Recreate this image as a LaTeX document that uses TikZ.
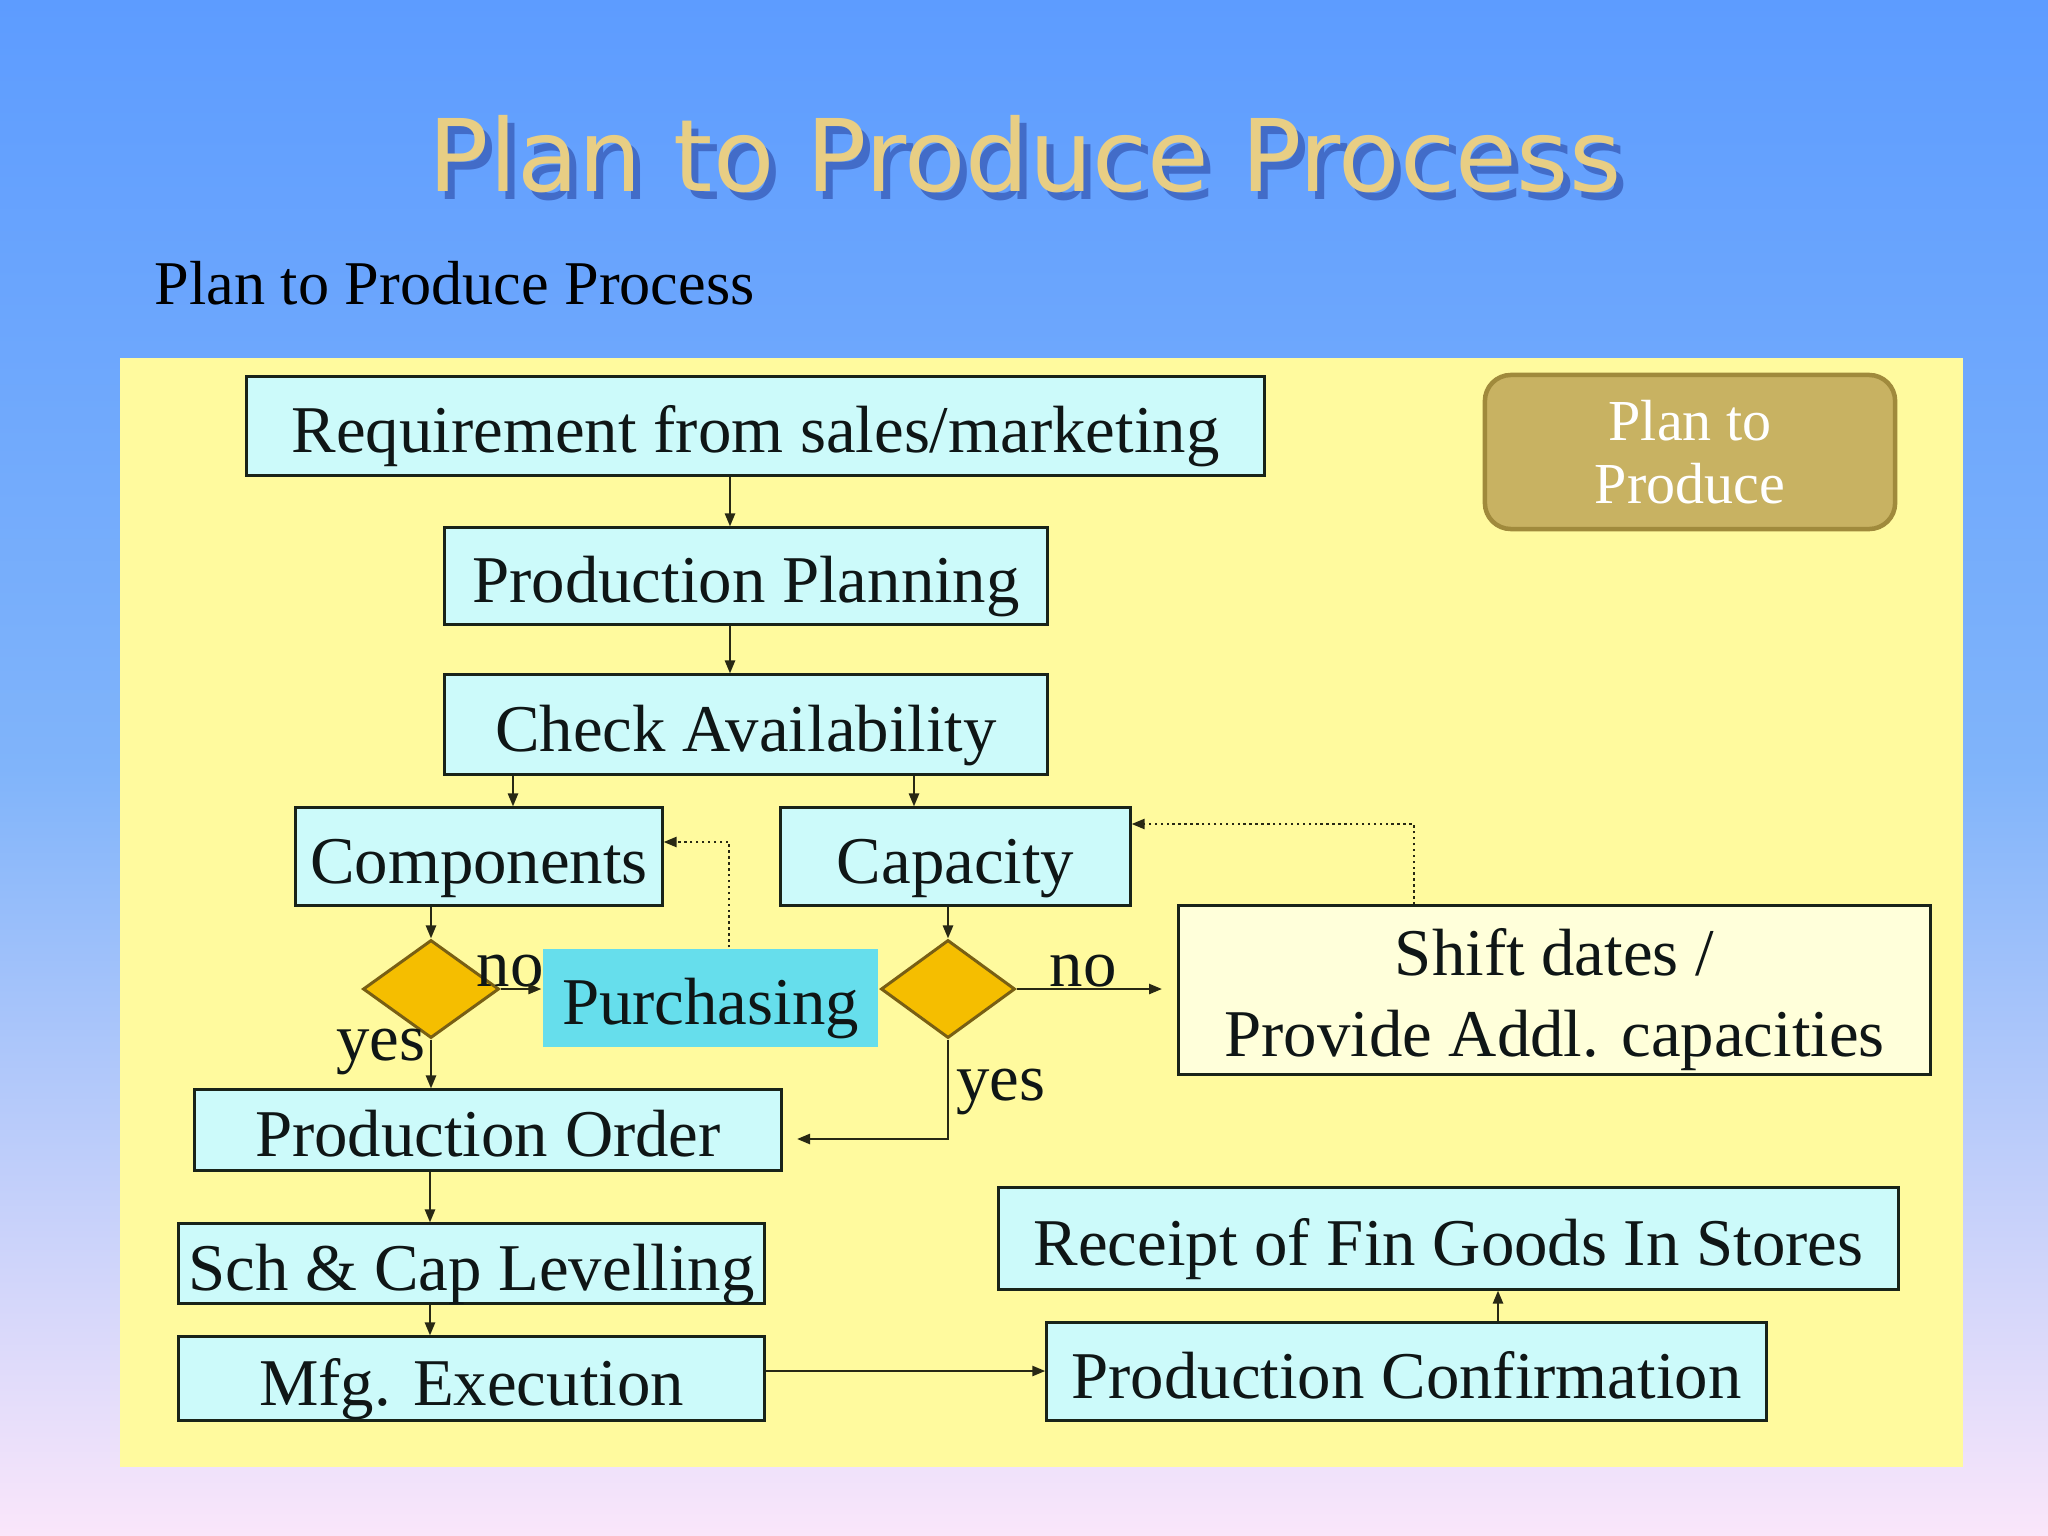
\documentclass[tikz,border=0pt]{standalone}
\usepackage{fontspec}
\setmainfont{Liberation Serif}
\newfontfamily\titlefont{DejaVu Sans}
\usetikzlibrary{arrows.meta,shapes.geometric,calc}
\definecolor{bgA}{RGB}{93,156,255}
\definecolor{bgB}{RGB}{128,180,250}
\definecolor{bgC}{RGB}{250,230,250}
\definecolor{panel}{RGB}{255,250,158}
\definecolor{boxfill}{RGB}{204,250,250}
\definecolor{boxline}{RGB}{25,35,25}
\definecolor{txt}{RGB}{15,22,22}
\definecolor{lineclr}{RGB}{40,40,20}
\definecolor{purfill}{RGB}{102,222,236}
\definecolor{diafill}{RGB}{245,190,0}
\definecolor{dialine}{RGB}{120,95,20}
\definecolor{shiftfill}{RGB}{255,255,218}
\definecolor{planfill}{RGB}{200,178,98}
\definecolor{planline}{RGB}{160,138,60}
\definecolor{gold}{RGB}{232,206,132}
\definecolor{goldshadow}{RGB}{66,108,200}
\begin{document}
\begin{tikzpicture}[x=0.01cm,y=-0.01cm,
  box/.style={draw=boxline, line width=0.03cm, fill=boxfill, inner sep=0pt, text height=17pt, text depth=1.9pt, font=\fontsize{19}{22}\selectfont, text=txt},
  decision/.style={diamond, draw=dialine, line width=0.03cm, fill=diafill, inner sep=0pt, minimum width=1.36cm, minimum height=0.98cm},
  arr/.style={-{Triangle[length=0.13cm,width=0.1cm]}, line width=0.024cm, draw=lineclr},
  dotarr/.style={arr, densely dotted},
  lbl/.style={font=\fontsize{19}{22}\selectfont, text=txt, inner sep=0pt, anchor=base}]
% background
\useasboundingbox (0,0) rectangle (2048,1536);
\shade[top color=bgA, bottom color=bgB] (0,0) rectangle (2048,769);
\shade[top color=bgB, bottom color=bgC] (0,768) rectangle (2048,1536);
% titles
\node[anchor=base, inner sep=0pt, text=gold, font=\titlefont\fontsize{28.5}{32}\selectfont] (title) at (1025,191)
  {\makebox[0pt][l]{\hspace{0.07cm}\raisebox{-0.08cm}{\textcolor{goldshadow}{Plan to Produce Process}}}Plan to Produce Process};
\node[anchor=base west, inner sep=0pt, text=black, font=\fontsize{17.7}{20}\selectfont] (sub) at (154,304) {Plan to Produce Process};
% panel
\fill[panel] (120,358) rectangle (1963,1467);
% nodes
\node[box, minimum width=10.17cm, minimum height=0.98cm] (req) at (755.5,426) {Requirement from sales/marketing};
\node[box, minimum width=6.02cm, minimum height=0.96cm] (pp) at (746,576) {Production Planning};
\node[box, minimum width=6.02cm, minimum height=0.99cm] (ca) at (746,724.5) {Check Availability};
\node[box, minimum width=3.66cm, minimum height=0.97cm] (comp) at (479,856.5) {Components};
\node[box, minimum width=3.49cm, minimum height=0.97cm] (cap) at (955.5,856.5) {Capacity};
\node[decision] (d1) at (431,989) {};
\node[box, draw=none, fill=purfill, minimum width=3.35cm, minimum height=0.98cm] (pur) at (710.5,998) {Purchasing};
\node[decision, minimum width=1.34cm] (d2) at (948,989) {};
\node[box, fill=shiftfill, text height=, text depth=, minimum width=7.51cm, minimum height=1.68cm] (shift) at (1554.5,990) {};
\node[align=center, inner sep=0pt, text=txt, font=\fontsize{19}{23}\selectfont] (shifttxt) at (1554.5,1000) {Shift dates /\\Provide Addl. capacities};
\node[box, minimum width=5.86cm, minimum height=0.80cm] (po) at (488,1130) {Production Order};
\node[box, minimum width=5.85cm, minimum height=0.79cm] (sch) at (471.5,1263.5) {Sch \& Cap Levelling};
\node[box, minimum width=5.85cm, minimum height=0.83cm] (mfg) at (471.5,1378.5) {Mfg. Execution};
\node[box, minimum width=8.99cm, minimum height=1.01cm] (rcpt) at (1448.5,1238.5) {Receipt of Fin Goods In Stores};
\node[box, minimum width=7.19cm, minimum height=0.97cm] (conf) at (1406.5,1371.5) {Production Confirmation};
\node[draw=planline, line width=0.045cm, fill=planfill, rounded corners=0.26cm, minimum width=4.10cm, minimum height=1.54cm, text=white, align=center, font=\fontsize{16.5}{17.8}\selectfont] (plan) at (1690,452) {Plan to\\Produce};
% labels
\node[lbl] (no1) at (510,986) {no};
\node[lbl] (yes1) at (381,1060) {yes};
\node[lbl] (no2) at (1083,986) {no};
\node[lbl] (yes2) at (1001,1100) {yes};
% helper coordinates
\coordinate (xa) at (730,0);
\coordinate (xb) at (513,0);
\coordinate (xc) at (914,0);
\coordinate (xd) at (430,0);
\coordinate (xp) at (729,0);
\coordinate (yp) at (0,842);
\coordinate (xs) at (1414,0);
\coordinate (ys) at (0,824);
\coordinate (nend) at (1162,0);
\coordinate (yy) at (0,1139);
\coordinate (yend) at (797,0);
\coordinate (ym) at (0,1371);
\coordinate (xr) at (1498,0);
% connectors
\draw[arr] (xa |- req.south) -- (xa |- pp.north);
\draw[arr] (xa |- pp.south) -- (xa |- ca.north);
\draw[arr] (xb |- ca.south) -- (xb |- comp.north);
\draw[arr] (xc |- ca.south) -- (xc |- cap.north);
\draw[arr] (d1.north |- comp.south) -- (d1.north);
\draw[arr] (d1.east) -- (pur.west |- d1.east);
\draw[arr] (d1.south) -- (d1.south |- po.north);
\draw[dotarr] (xp |- pur.north) -- (xp |- yp) -- (comp.east |- yp);
\draw[arr] (d2.north |- cap.south) -- (d2.north);
\draw[arr] (d2.east) -- (nend |- d2.east);
\draw[dotarr] (xs |- shift.north) -- (xs |- ys) -- (cap.east |- ys);
\draw[arr] (d2.south) -- (d2.south |- yy) -- (yend |- yy);
\draw[arr] (xd |- po.south) -- (xd |- sch.north);
\draw[arr] (xd |- sch.south) -- (xd |- mfg.north);
\draw[arr] (mfg.east |- ym) -- (conf.west |- ym);
\draw[arr] (xr |- conf.north) -- (xr |- rcpt.south);
\end{tikzpicture}
\end{document}
